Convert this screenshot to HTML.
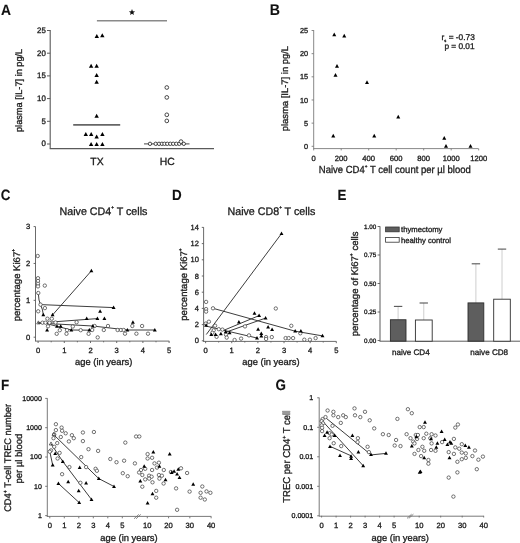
<!DOCTYPE html>
<html><head><meta charset="utf-8"><style>
html,body{margin:0;padding:0;background:#fff;}
svg{display:block;font-family:"Liberation Sans", sans-serif;filter:blur(0.3px);}
text{stroke:#1c1c1c;stroke-width:0.32px;text-rendering:geometricPrecision;}
</style></head><body>
<svg width="520" height="543" viewBox="0 0 520 543">
<rect width="520" height="543" fill="#fff"/>
<text transform="translate(1.00,15.05) scale(0.93,1)" font-size="14.9" font-weight="bold" fill="#111" style="stroke-width:0.1px">A</text>
<line x1="50.20" y1="30.00" x2="50.20" y2="148.60" stroke="#5a5a5a" stroke-width="1.1"/>
<line x1="49.70" y1="148.60" x2="214.00" y2="148.60" stroke="#5a5a5a" stroke-width="1.1"/>
<line x1="47.00" y1="30.50" x2="50.20" y2="30.50" stroke="#5a5a5a" stroke-width="1"/>
<text x="45.80" y="32.80" font-size="7.9" text-anchor="end" font-weight="normal" fill="#1c1c1c" >25</text>
<line x1="47.00" y1="53.20" x2="50.20" y2="53.20" stroke="#5a5a5a" stroke-width="1"/>
<text x="45.80" y="55.50" font-size="7.9" text-anchor="end" font-weight="normal" fill="#1c1c1c" >20</text>
<line x1="47.00" y1="75.90" x2="50.20" y2="75.90" stroke="#5a5a5a" stroke-width="1"/>
<text x="45.80" y="78.20" font-size="7.9" text-anchor="end" font-weight="normal" fill="#1c1c1c" >15</text>
<line x1="47.00" y1="98.60" x2="50.20" y2="98.60" stroke="#5a5a5a" stroke-width="1"/>
<text x="45.80" y="100.90" font-size="7.9" text-anchor="end" font-weight="normal" fill="#1c1c1c" >10</text>
<line x1="47.00" y1="121.30" x2="50.20" y2="121.30" stroke="#5a5a5a" stroke-width="1"/>
<text x="45.80" y="123.60" font-size="7.9" text-anchor="end" font-weight="normal" fill="#1c1c1c" >5</text>
<line x1="47.00" y1="144.00" x2="50.20" y2="144.00" stroke="#5a5a5a" stroke-width="1"/>
<text x="45.80" y="146.30" font-size="7.9" text-anchor="end" font-weight="normal" fill="#1c1c1c" >0</text>
<text transform="translate(21.80,90.40) rotate(-90)" font-size="9.4" text-anchor="middle" fill="#1c1c1c"  textLength="83.2" lengthAdjust="spacingAndGlyphs">plasma [IL-7] in pg/L</text>
<text x="97.00" y="164.70" font-size="10.4" text-anchor="middle" font-weight="normal" fill="#1c1c1c" >TX</text>
<text x="167.30" y="164.70" font-size="10.4" text-anchor="middle" font-weight="normal" fill="#1c1c1c" >HC</text>
<line x1="96.90" y1="20.80" x2="167.00" y2="20.80" stroke="#8a8a8a" stroke-width="1.5"/>
<polygon points="132.00,9.10 132.85,11.23 135.14,11.38 133.38,12.85 133.94,15.07 132.00,13.85 130.06,15.07 130.62,12.85 128.86,11.38 131.15,11.23" fill="#111"/>
<line x1="73.20" y1="124.90" x2="120.20" y2="124.90" stroke="#666" stroke-width="1.7"/>
<line x1="144.00" y1="143.80" x2="189.50" y2="143.80" stroke="#6a6a6a" stroke-width="1.2"/>
<polygon points="96.80,34.12 94.60,38.08 99.00,38.08" fill="#000"/>
<polygon points="102.30,33.22 100.10,37.18 104.50,37.18" fill="#000"/>
<polygon points="91.10,63.82 88.90,67.78 93.30,67.78" fill="#000"/>
<polygon points="96.65,63.82 94.45,67.78 98.85,67.78" fill="#000"/>
<polygon points="96.65,73.02 94.45,76.98 98.85,76.98" fill="#000"/>
<polygon points="96.65,79.72 94.45,83.68 98.85,83.68" fill="#000"/>
<polygon points="96.65,113.82 94.45,117.78 98.85,117.78" fill="#000"/>
<polygon points="85.80,132.02 83.60,135.98 88.00,135.98" fill="#000"/>
<polygon points="91.20,132.02 89.00,135.98 93.40,135.98" fill="#000"/>
<polygon points="96.65,134.52 94.45,138.48 98.85,138.48" fill="#000"/>
<polygon points="102.40,132.02 100.20,135.98 104.60,135.98" fill="#000"/>
<polygon points="91.10,142.02 88.90,145.98 93.30,145.98" fill="#000"/>
<polygon points="96.65,142.02 94.45,145.98 98.85,145.98" fill="#000"/>
<polygon points="102.40,142.02 100.20,145.98 104.60,145.98" fill="#000"/>
<circle cx="166.80" cy="87.50" r="1.85" fill="#fff" stroke="#333" stroke-width="0.9"/>
<circle cx="166.80" cy="97.40" r="1.85" fill="#fff" stroke="#333" stroke-width="0.9"/>
<circle cx="166.80" cy="114.80" r="1.85" fill="#fff" stroke="#333" stroke-width="0.9"/>
<circle cx="166.80" cy="120.90" r="1.85" fill="#fff" stroke="#333" stroke-width="0.9"/>
<circle cx="150.00" cy="143.80" r="1.7" fill="#fff" stroke="#333" stroke-width="0.9"/>
<circle cx="155.70" cy="143.80" r="1.7" fill="#fff" stroke="#333" stroke-width="0.9"/>
<circle cx="159.00" cy="143.80" r="1.7" fill="#fff" stroke="#333" stroke-width="0.9"/>
<circle cx="161.90" cy="143.80" r="1.7" fill="#fff" stroke="#333" stroke-width="0.9"/>
<circle cx="164.50" cy="143.80" r="1.7" fill="#fff" stroke="#333" stroke-width="0.9"/>
<circle cx="167.30" cy="143.80" r="1.7" fill="#fff" stroke="#333" stroke-width="0.9"/>
<circle cx="170.30" cy="143.80" r="1.7" fill="#fff" stroke="#333" stroke-width="0.9"/>
<circle cx="173.20" cy="143.80" r="1.7" fill="#fff" stroke="#333" stroke-width="0.9"/>
<circle cx="176.30" cy="143.80" r="1.7" fill="#fff" stroke="#333" stroke-width="0.9"/>
<circle cx="179.30" cy="143.80" r="1.7" fill="#fff" stroke="#333" stroke-width="0.9"/>
<circle cx="183.80" cy="143.80" r="1.7" fill="#fff" stroke="#333" stroke-width="0.9"/>
<circle cx="181.00" cy="141.60" r="1.85" fill="#fff" stroke="#333" stroke-width="0.9"/>
<text transform="translate(269.70,14.65) scale(0.92,1)" font-size="15.4" font-weight="bold" fill="#111" style="stroke-width:0.1px">B</text>
<line x1="313.70" y1="30.00" x2="313.70" y2="148.60" stroke="#7a7a7a" stroke-width="0.9"/>
<line x1="313.20" y1="148.60" x2="478.50" y2="148.60" stroke="#7a7a7a" stroke-width="0.9"/>
<line x1="311.60" y1="30.50" x2="313.70" y2="30.50" stroke="#7a7a7a" stroke-width="0.9"/>
<text x="308.00" y="33.10" font-size="7.3" text-anchor="end" font-weight="normal" fill="#1c1c1c" >25</text>
<line x1="311.60" y1="53.66" x2="313.70" y2="53.66" stroke="#7a7a7a" stroke-width="0.9"/>
<text x="308.00" y="56.26" font-size="7.3" text-anchor="end" font-weight="normal" fill="#1c1c1c" >20</text>
<line x1="311.60" y1="76.82" x2="313.70" y2="76.82" stroke="#7a7a7a" stroke-width="0.9"/>
<text x="308.00" y="79.42" font-size="7.3" text-anchor="end" font-weight="normal" fill="#1c1c1c" >15</text>
<line x1="311.60" y1="99.98" x2="313.70" y2="99.98" stroke="#7a7a7a" stroke-width="0.9"/>
<text x="308.00" y="102.58" font-size="7.3" text-anchor="end" font-weight="normal" fill="#1c1c1c" >10</text>
<line x1="311.60" y1="123.14" x2="313.70" y2="123.14" stroke="#7a7a7a" stroke-width="0.9"/>
<text x="308.00" y="125.74" font-size="7.3" text-anchor="end" font-weight="normal" fill="#1c1c1c" >5</text>
<line x1="311.60" y1="146.30" x2="313.70" y2="146.30" stroke="#7a7a7a" stroke-width="0.9"/>
<text x="308.00" y="148.90" font-size="7.3" text-anchor="end" font-weight="normal" fill="#1c1c1c" >0</text>
<line x1="313.70" y1="148.60" x2="313.70" y2="150.40" stroke="#7a7a7a" stroke-width="0.9"/>
<text x="313.70" y="160.50" font-size="7.6" text-anchor="middle" font-weight="normal" fill="#1c1c1c" >0</text>
<line x1="341.20" y1="148.60" x2="341.20" y2="150.40" stroke="#7a7a7a" stroke-width="0.9"/>
<text x="341.20" y="160.50" font-size="7.6" text-anchor="middle" font-weight="normal" fill="#1c1c1c" >200</text>
<line x1="368.70" y1="148.60" x2="368.70" y2="150.40" stroke="#7a7a7a" stroke-width="0.9"/>
<text x="368.70" y="160.50" font-size="7.6" text-anchor="middle" font-weight="normal" fill="#1c1c1c" >400</text>
<line x1="396.20" y1="148.60" x2="396.20" y2="150.40" stroke="#7a7a7a" stroke-width="0.9"/>
<text x="396.20" y="160.50" font-size="7.6" text-anchor="middle" font-weight="normal" fill="#1c1c1c" >600</text>
<line x1="423.70" y1="148.60" x2="423.70" y2="150.40" stroke="#7a7a7a" stroke-width="0.9"/>
<text x="423.70" y="160.50" font-size="7.6" text-anchor="middle" font-weight="normal" fill="#1c1c1c" >800</text>
<line x1="451.20" y1="148.60" x2="451.20" y2="150.40" stroke="#7a7a7a" stroke-width="0.9"/>
<text x="451.20" y="160.50" font-size="7.6" text-anchor="middle" font-weight="normal" fill="#1c1c1c" >1000</text>
<line x1="478.70" y1="148.60" x2="478.70" y2="150.40" stroke="#7a7a7a" stroke-width="0.9"/>
<text x="478.70" y="160.50" font-size="7.6" text-anchor="middle" font-weight="normal" fill="#1c1c1c" >1200</text>
<text transform="translate(287.80,88.60) rotate(-90)" font-size="9.4" text-anchor="middle" fill="#1c1c1c"  textLength="85.3" lengthAdjust="spacingAndGlyphs">plasma [IL-7] in pg/L</text>
<text x="318.80" y="173.10" font-size="10.3" text-anchor="start" font-weight="normal" fill="#1c1c1c"  textLength="152" lengthAdjust="spacingAndGlyphs">Naive CD4<tspan font-size="5" dy="-4.8">+</tspan><tspan dy="4.8"> T cell count per µl blood</tspan></text>
<text x="441.60" y="40.30" font-size="8.3" text-anchor="start" font-weight="normal" fill="#1c1c1c"  textLength="33.2" lengthAdjust="spacingAndGlyphs">r<tspan font-size="4" dy="1.6">s</tspan><tspan dy="-1.6"> = -0.73</tspan></text>
<text x="474.60" y="48.80" font-size="8.3" text-anchor="end" font-weight="normal" fill="#1c1c1c" >p = 0.01</text>
<polygon points="334.25,32.59 332.25,36.19 336.25,36.19" fill="#000"/>
<polygon points="344.25,33.84 342.25,37.44 346.25,37.44" fill="#000"/>
<polygon points="337.00,64.09 335.00,67.69 339.00,67.69" fill="#000"/>
<polygon points="335.50,73.09 333.50,76.69 337.50,76.69" fill="#000"/>
<polygon points="367.00,80.34 365.00,83.94 369.00,83.94" fill="#000"/>
<polygon points="333.25,133.84 331.25,137.44 335.25,137.44" fill="#000"/>
<polygon points="374.25,133.84 372.25,137.44 376.25,137.44" fill="#000"/>
<polygon points="398.25,114.84 396.25,118.44 400.25,118.44" fill="#000"/>
<polygon points="444.25,136.09 442.25,139.69 446.25,139.69" fill="#000"/>
<polygon points="446.00,144.09 444.00,147.69 448.00,147.69" fill="#000"/>
<polygon points="470.50,144.09 468.50,147.69 472.50,147.69" fill="#000"/>
<text transform="translate(0.85,199.55) scale(0.9,1)" font-size="14.9" font-weight="bold" fill="#111" style="stroke-width:0.1px">C</text>
<line x1="35.50" y1="226.60" x2="35.50" y2="341.10" stroke="#5a5a5a" stroke-width="0.9"/>
<line x1="35.00" y1="341.10" x2="169.30" y2="341.10" stroke="#5a5a5a" stroke-width="0.9"/>
<line x1="33.60" y1="337.20" x2="35.50" y2="337.20" stroke="#5a5a5a" stroke-width="0.9"/>
<text x="30.30" y="339.80" font-size="7.6" text-anchor="end" font-weight="normal" fill="#1c1c1c" >0</text>
<line x1="33.60" y1="300.33" x2="35.50" y2="300.33" stroke="#5a5a5a" stroke-width="0.9"/>
<text x="30.30" y="302.93" font-size="7.6" text-anchor="end" font-weight="normal" fill="#1c1c1c" >1</text>
<line x1="33.60" y1="263.46" x2="35.50" y2="263.46" stroke="#5a5a5a" stroke-width="0.9"/>
<text x="30.30" y="266.06" font-size="7.6" text-anchor="end" font-weight="normal" fill="#1c1c1c" >2</text>
<line x1="33.60" y1="226.59" x2="35.50" y2="226.59" stroke="#5a5a5a" stroke-width="0.9"/>
<text x="30.30" y="229.19" font-size="7.6" text-anchor="end" font-weight="normal" fill="#1c1c1c" >3</text>
<line x1="38.10" y1="341.10" x2="38.10" y2="343.00" stroke="#5a5a5a" stroke-width="0.9"/>
<text x="38.10" y="353.40" font-size="7.6" text-anchor="middle" font-weight="normal" fill="#1c1c1c" >0</text>
<line x1="51.20" y1="341.10" x2="51.20" y2="342.30" stroke="#5a5a5a" stroke-width="0.9"/>
<line x1="64.30" y1="341.10" x2="64.30" y2="343.00" stroke="#5a5a5a" stroke-width="0.9"/>
<text x="64.30" y="353.40" font-size="7.6" text-anchor="middle" font-weight="normal" fill="#1c1c1c" >1</text>
<line x1="77.40" y1="341.10" x2="77.40" y2="342.30" stroke="#5a5a5a" stroke-width="0.9"/>
<line x1="90.50" y1="341.10" x2="90.50" y2="343.00" stroke="#5a5a5a" stroke-width="0.9"/>
<text x="90.50" y="353.40" font-size="7.6" text-anchor="middle" font-weight="normal" fill="#1c1c1c" >2</text>
<line x1="103.60" y1="341.10" x2="103.60" y2="342.30" stroke="#5a5a5a" stroke-width="0.9"/>
<line x1="116.70" y1="341.10" x2="116.70" y2="343.00" stroke="#5a5a5a" stroke-width="0.9"/>
<text x="116.70" y="353.40" font-size="7.6" text-anchor="middle" font-weight="normal" fill="#1c1c1c" >3</text>
<line x1="129.80" y1="341.10" x2="129.80" y2="342.30" stroke="#5a5a5a" stroke-width="0.9"/>
<line x1="142.90" y1="341.10" x2="142.90" y2="343.00" stroke="#5a5a5a" stroke-width="0.9"/>
<text x="142.90" y="353.40" font-size="7.6" text-anchor="middle" font-weight="normal" fill="#1c1c1c" >4</text>
<line x1="156.00" y1="341.10" x2="156.00" y2="342.30" stroke="#5a5a5a" stroke-width="0.9"/>
<line x1="169.10" y1="341.10" x2="169.10" y2="343.00" stroke="#5a5a5a" stroke-width="0.9"/>
<text x="169.10" y="353.40" font-size="7.6" text-anchor="middle" font-weight="normal" fill="#1c1c1c" >5</text>
<text x="59.60" y="214.50" font-size="11.0" text-anchor="start" font-weight="normal" fill="#1c1c1c"  textLength="87.8" lengthAdjust="spacingAndGlyphs">Naive CD4<tspan font-size="4.8" dy="-5.4">+</tspan><tspan dy="5.4"> T cells</tspan></text>
<text transform="translate(20.40,285.10) rotate(-90)" font-size="9.6" text-anchor="middle" fill="#1c1c1c"  textLength="72.5" lengthAdjust="spacingAndGlyphs">percentage Ki67<tspan font-size="5" dy="-5.6">+</tspan></text>
<text x="103.70" y="365.10" font-size="9.4" text-anchor="middle" font-weight="normal" fill="#1c1c1c" >age (in years)</text>
<polyline points="52.60,314.90 91.40,270.80" fill="none" stroke="#333" stroke-width="0.95"/>
<polyline points="40.50,304.60 113.60,307.60" fill="none" stroke="#333" stroke-width="0.95"/>
<polyline points="38.30,293.00 39.00,300.00 40.50,304.60 42.50,310.00 43.30,314.90" fill="none" stroke="#333" stroke-width="0.95"/>
<polyline points="38.00,323.00 97.40,318.60" fill="none" stroke="#333" stroke-width="0.95"/>
<polyline points="38.00,323.00 92.80,326.00 127.40,330.00 154.80,330.00" fill="none" stroke="#333" stroke-width="0.95"/>
<polyline points="44.00,323.00 57.00,326.30 71.30,330.00 89.30,330.20" fill="none" stroke="#333" stroke-width="0.95"/>
<circle cx="37.70" cy="256.00" r="1.7" fill="#fff" stroke="#383838" stroke-width="0.7"/>
<circle cx="38.00" cy="278.20" r="1.7" fill="#fff" stroke="#383838" stroke-width="0.7"/>
<circle cx="38.00" cy="281.00" r="1.7" fill="#fff" stroke="#383838" stroke-width="0.7"/>
<circle cx="38.00" cy="283.80" r="1.7" fill="#fff" stroke="#383838" stroke-width="0.7"/>
<circle cx="38.00" cy="286.40" r="1.7" fill="#fff" stroke="#383838" stroke-width="0.7"/>
<circle cx="44.80" cy="285.60" r="1.7" fill="#fff" stroke="#383838" stroke-width="0.7"/>
<circle cx="38.30" cy="293.00" r="1.7" fill="#fff" stroke="#383838" stroke-width="0.7"/>
<circle cx="40.50" cy="304.60" r="1.7" fill="#fff" stroke="#383838" stroke-width="0.7"/>
<circle cx="44.90" cy="308.10" r="1.7" fill="#fff" stroke="#383838" stroke-width="0.7"/>
<circle cx="38.20" cy="311.30" r="1.7" fill="#fff" stroke="#383838" stroke-width="0.7"/>
<circle cx="47.40" cy="318.70" r="1.7" fill="#fff" stroke="#383838" stroke-width="0.7"/>
<circle cx="51.80" cy="318.70" r="1.7" fill="#fff" stroke="#383838" stroke-width="0.7"/>
<circle cx="55.50" cy="322.50" r="1.7" fill="#fff" stroke="#383838" stroke-width="0.7"/>
<circle cx="76.60" cy="322.20" r="1.7" fill="#fff" stroke="#383838" stroke-width="0.7"/>
<circle cx="48.00" cy="326.30" r="1.7" fill="#fff" stroke="#383838" stroke-width="0.7"/>
<circle cx="72.80" cy="326.50" r="1.7" fill="#fff" stroke="#383838" stroke-width="0.7"/>
<circle cx="59.80" cy="330.20" r="1.7" fill="#fff" stroke="#383838" stroke-width="0.7"/>
<circle cx="67.00" cy="330.20" r="1.7" fill="#fff" stroke="#383838" stroke-width="0.7"/>
<circle cx="80.70" cy="330.20" r="1.7" fill="#fff" stroke="#383838" stroke-width="0.7"/>
<circle cx="56.70" cy="333.80" r="1.7" fill="#fff" stroke="#383838" stroke-width="0.7"/>
<circle cx="66.50" cy="333.80" r="1.7" fill="#fff" stroke="#383838" stroke-width="0.7"/>
<circle cx="88.60" cy="333.80" r="1.7" fill="#fff" stroke="#383838" stroke-width="0.7"/>
<circle cx="94.60" cy="326.00" r="1.7" fill="#fff" stroke="#383838" stroke-width="0.7"/>
<circle cx="108.00" cy="326.00" r="1.7" fill="#fff" stroke="#383838" stroke-width="0.7"/>
<circle cx="132.30" cy="326.00" r="1.7" fill="#fff" stroke="#383838" stroke-width="0.7"/>
<circle cx="142.10" cy="326.00" r="1.7" fill="#fff" stroke="#383838" stroke-width="0.7"/>
<circle cx="92.20" cy="330.00" r="1.7" fill="#fff" stroke="#383838" stroke-width="0.7"/>
<circle cx="103.80" cy="330.00" r="1.7" fill="#fff" stroke="#383838" stroke-width="0.7"/>
<circle cx="117.60" cy="330.00" r="1.7" fill="#fff" stroke="#383838" stroke-width="0.7"/>
<circle cx="120.90" cy="330.00" r="1.7" fill="#fff" stroke="#383838" stroke-width="0.7"/>
<circle cx="123.70" cy="330.00" r="1.7" fill="#fff" stroke="#383838" stroke-width="0.7"/>
<circle cx="125.00" cy="333.70" r="1.7" fill="#fff" stroke="#383838" stroke-width="0.7"/>
<circle cx="136.40" cy="333.70" r="1.7" fill="#fff" stroke="#383838" stroke-width="0.7"/>
<circle cx="148.00" cy="333.70" r="1.7" fill="#fff" stroke="#383838" stroke-width="0.7"/>
<circle cx="97.70" cy="337.40" r="1.7" fill="#fff" stroke="#383838" stroke-width="0.7"/>
<circle cx="42.50" cy="322.70" r="1.7" fill="#fff" stroke="#383838" stroke-width="0.7"/>
<circle cx="45.50" cy="322.70" r="1.7" fill="#fff" stroke="#383838" stroke-width="0.7"/>
<circle cx="49.50" cy="322.70" r="1.7" fill="#fff" stroke="#383838" stroke-width="0.7"/>
<polygon points="91.40,268.69 89.45,272.20 93.35,272.20" fill="#000"/>
<polygon points="52.60,312.79 50.65,316.30 54.55,316.30" fill="#000"/>
<polygon points="43.30,312.79 41.35,316.30 45.25,316.30" fill="#000"/>
<polygon points="113.60,305.49 111.65,309.00 115.55,309.00" fill="#000"/>
<polygon points="100.10,309.19 98.15,312.70 102.05,312.70" fill="#000"/>
<polygon points="97.40,316.49 95.45,320.00 99.35,320.00" fill="#000"/>
<polygon points="86.70,316.39 84.75,319.90 88.65,319.90" fill="#000"/>
<polygon points="104.40,316.49 102.45,320.00 106.35,320.00" fill="#000"/>
<polygon points="132.90,320.19 130.95,323.70 134.85,323.70" fill="#000"/>
<polygon points="92.80,323.89 90.85,327.40 94.75,327.40" fill="#000"/>
<polygon points="127.40,327.89 125.45,331.40 129.35,331.40" fill="#000"/>
<polygon points="154.80,327.89 152.85,331.40 156.75,331.40" fill="#000"/>
<polygon points="57.00,324.19 55.05,327.70 58.95,327.70" fill="#000"/>
<polygon points="60.70,324.19 58.75,327.70 62.65,327.70" fill="#000"/>
<polygon points="47.10,328.09 45.15,331.60 49.05,331.60" fill="#000"/>
<polygon points="71.30,328.09 69.35,331.60 73.25,331.60" fill="#000"/>
<polygon points="89.30,328.09 87.35,331.60 91.25,331.60" fill="#000"/>
<polygon points="38.40,320.86 36.70,323.92 40.10,323.92" fill="none" stroke="#333" stroke-width="0.7"/>
<text transform="translate(172.00,199.75) scale(0.9,1)" font-size="14.9" font-weight="bold" fill="#111" style="stroke-width:0.1px">D</text>
<line x1="203.60" y1="227.20" x2="203.60" y2="341.40" stroke="#5a5a5a" stroke-width="0.9"/>
<line x1="203.10" y1="341.40" x2="336.40" y2="341.40" stroke="#5a5a5a" stroke-width="0.9"/>
<line x1="201.80" y1="340.80" x2="203.60" y2="340.80" stroke="#5a5a5a" stroke-width="0.9"/>
<text x="198.90" y="343.40" font-size="7.5" text-anchor="end" font-weight="normal" fill="#1c1c1c" >0</text>
<line x1="201.80" y1="324.60" x2="203.60" y2="324.60" stroke="#5a5a5a" stroke-width="0.9"/>
<text x="198.90" y="327.20" font-size="7.5" text-anchor="end" font-weight="normal" fill="#1c1c1c" >2</text>
<line x1="201.80" y1="308.40" x2="203.60" y2="308.40" stroke="#5a5a5a" stroke-width="0.9"/>
<text x="198.90" y="311.00" font-size="7.5" text-anchor="end" font-weight="normal" fill="#1c1c1c" >4</text>
<line x1="201.80" y1="292.20" x2="203.60" y2="292.20" stroke="#5a5a5a" stroke-width="0.9"/>
<text x="198.90" y="294.80" font-size="7.5" text-anchor="end" font-weight="normal" fill="#1c1c1c" >6</text>
<line x1="201.80" y1="276.00" x2="203.60" y2="276.00" stroke="#5a5a5a" stroke-width="0.9"/>
<text x="198.90" y="278.60" font-size="7.5" text-anchor="end" font-weight="normal" fill="#1c1c1c" >8</text>
<line x1="201.80" y1="259.80" x2="203.60" y2="259.80" stroke="#5a5a5a" stroke-width="0.9"/>
<text x="198.90" y="262.40" font-size="7.5" text-anchor="end" font-weight="normal" fill="#1c1c1c" >10</text>
<line x1="201.80" y1="243.60" x2="203.60" y2="243.60" stroke="#5a5a5a" stroke-width="0.9"/>
<text x="198.90" y="246.20" font-size="7.5" text-anchor="end" font-weight="normal" fill="#1c1c1c" >12</text>
<line x1="201.80" y1="227.40" x2="203.60" y2="227.40" stroke="#5a5a5a" stroke-width="0.9"/>
<text x="198.90" y="230.00" font-size="7.5" text-anchor="end" font-weight="normal" fill="#1c1c1c" >14</text>
<line x1="205.60" y1="341.40" x2="205.60" y2="343.20" stroke="#5a5a5a" stroke-width="0.9"/>
<text x="205.60" y="353.40" font-size="7.6" text-anchor="middle" font-weight="normal" fill="#1c1c1c" >0</text>
<line x1="218.67" y1="341.40" x2="218.67" y2="342.50" stroke="#5a5a5a" stroke-width="0.9"/>
<line x1="231.74" y1="341.40" x2="231.74" y2="343.20" stroke="#5a5a5a" stroke-width="0.9"/>
<text x="231.74" y="353.40" font-size="7.6" text-anchor="middle" font-weight="normal" fill="#1c1c1c" >1</text>
<line x1="244.81" y1="341.40" x2="244.81" y2="342.50" stroke="#5a5a5a" stroke-width="0.9"/>
<line x1="257.88" y1="341.40" x2="257.88" y2="343.20" stroke="#5a5a5a" stroke-width="0.9"/>
<text x="257.88" y="353.40" font-size="7.6" text-anchor="middle" font-weight="normal" fill="#1c1c1c" >2</text>
<line x1="270.95" y1="341.40" x2="270.95" y2="342.50" stroke="#5a5a5a" stroke-width="0.9"/>
<line x1="284.02" y1="341.40" x2="284.02" y2="343.20" stroke="#5a5a5a" stroke-width="0.9"/>
<text x="284.02" y="353.40" font-size="7.6" text-anchor="middle" font-weight="normal" fill="#1c1c1c" >3</text>
<line x1="297.09" y1="341.40" x2="297.09" y2="342.50" stroke="#5a5a5a" stroke-width="0.9"/>
<line x1="310.16" y1="341.40" x2="310.16" y2="343.20" stroke="#5a5a5a" stroke-width="0.9"/>
<text x="310.16" y="353.40" font-size="7.6" text-anchor="middle" font-weight="normal" fill="#1c1c1c" >4</text>
<line x1="323.23" y1="341.40" x2="323.23" y2="342.50" stroke="#5a5a5a" stroke-width="0.9"/>
<line x1="336.30" y1="341.40" x2="336.30" y2="343.20" stroke="#5a5a5a" stroke-width="0.9"/>
<text x="336.30" y="353.40" font-size="7.6" text-anchor="middle" font-weight="normal" fill="#1c1c1c" >5</text>
<text x="227.50" y="214.50" font-size="11.0" text-anchor="start" font-weight="normal" fill="#1c1c1c"  textLength="87.8" lengthAdjust="spacingAndGlyphs">Naive CD8<tspan font-size="4.8" dy="-5.4">+</tspan><tspan dy="5.4"> T cells</tspan></text>
<text transform="translate(187.30,284.50) rotate(-90)" font-size="9.6" text-anchor="middle" fill="#1c1c1c"  textLength="72.5" lengthAdjust="spacingAndGlyphs">percentage Ki67<tspan font-size="5" dy="-5.6">+</tspan></text>
<text x="271.00" y="365.10" font-size="9.4" text-anchor="middle" font-weight="normal" fill="#1c1c1c" >age (in years)</text>
<polyline points="206.30,334.50 281.50,233.60" fill="none" stroke="#333" stroke-width="0.95"/>
<polyline points="213.00,308.30 295.20,331.20 322.50,335.90" fill="none" stroke="#333" stroke-width="0.95"/>
<polyline points="205.80,326.00 223.80,330.30 257.00,338.00" fill="none" stroke="#333" stroke-width="0.95"/>
<polyline points="223.80,330.30 259.10,315.60" fill="none" stroke="#333" stroke-width="0.95"/>
<polyline points="225.00,332.50 265.60,318.10" fill="none" stroke="#333" stroke-width="0.95"/>
<circle cx="206.10" cy="301.90" r="1.7" fill="#fff" stroke="#383838" stroke-width="0.7"/>
<circle cx="206.10" cy="309.10" r="1.7" fill="#fff" stroke="#383838" stroke-width="0.7"/>
<circle cx="206.10" cy="311.60" r="1.7" fill="#fff" stroke="#383838" stroke-width="0.7"/>
<circle cx="213.00" cy="308.30" r="1.7" fill="#fff" stroke="#383838" stroke-width="0.7"/>
<circle cx="208.90" cy="321.70" r="1.7" fill="#fff" stroke="#383838" stroke-width="0.7"/>
<circle cx="205.80" cy="323.60" r="1.7" fill="#fff" stroke="#383838" stroke-width="0.7"/>
<circle cx="215.10" cy="325.70" r="1.7" fill="#fff" stroke="#383838" stroke-width="0.7"/>
<circle cx="218.80" cy="329.20" r="1.7" fill="#fff" stroke="#383838" stroke-width="0.7"/>
<circle cx="213.70" cy="330.30" r="1.7" fill="#fff" stroke="#383838" stroke-width="0.7"/>
<circle cx="222.40" cy="329.60" r="1.7" fill="#fff" stroke="#383838" stroke-width="0.7"/>
<circle cx="216.60" cy="336.80" r="1.7" fill="#fff" stroke="#383838" stroke-width="0.7"/>
<circle cx="226.00" cy="334.70" r="1.7" fill="#fff" stroke="#383838" stroke-width="0.7"/>
<circle cx="226.70" cy="337.60" r="1.7" fill="#fff" stroke="#383838" stroke-width="0.7"/>
<circle cx="234.60" cy="340.00" r="1.7" fill="#fff" stroke="#383838" stroke-width="0.7"/>
<circle cx="241.10" cy="338.60" r="1.7" fill="#fff" stroke="#383838" stroke-width="0.7"/>
<circle cx="245.00" cy="326.40" r="1.7" fill="#fff" stroke="#383838" stroke-width="0.7"/>
<circle cx="249.00" cy="335.40" r="1.7" fill="#fff" stroke="#383838" stroke-width="0.7"/>
<circle cx="266.10" cy="337.10" r="1.7" fill="#fff" stroke="#383838" stroke-width="0.7"/>
<circle cx="266.10" cy="339.00" r="1.7" fill="#fff" stroke="#383838" stroke-width="0.7"/>
<circle cx="271.80" cy="337.10" r="1.7" fill="#fff" stroke="#383838" stroke-width="0.7"/>
<circle cx="212.30" cy="332.80" r="1.7" fill="#fff" stroke="#383838" stroke-width="0.7"/>
<circle cx="275.80" cy="308.50" r="1.7" fill="#fff" stroke="#383838" stroke-width="0.7"/>
<circle cx="291.30" cy="325.80" r="1.7" fill="#fff" stroke="#383838" stroke-width="0.7"/>
<circle cx="300.30" cy="333.30" r="1.7" fill="#fff" stroke="#383838" stroke-width="0.7"/>
<circle cx="285.60" cy="338.10" r="1.7" fill="#fff" stroke="#383838" stroke-width="0.7"/>
<circle cx="288.70" cy="338.10" r="1.7" fill="#fff" stroke="#383838" stroke-width="0.7"/>
<circle cx="293.10" cy="338.10" r="1.7" fill="#fff" stroke="#383838" stroke-width="0.7"/>
<circle cx="315.60" cy="338.10" r="1.7" fill="#fff" stroke="#383838" stroke-width="0.7"/>
<circle cx="304.30" cy="339.70" r="1.7" fill="#fff" stroke="#383838" stroke-width="0.7"/>
<circle cx="309.90" cy="339.70" r="1.7" fill="#fff" stroke="#383838" stroke-width="0.7"/>
<polygon points="281.50,231.49 279.55,235.00 283.45,235.00" fill="#000"/>
<polygon points="254.50,311.19 252.55,314.70 256.45,314.70" fill="#000"/>
<polygon points="259.10,313.49 257.15,317.00 261.05,317.00" fill="#000"/>
<polygon points="265.60,315.99 263.65,319.50 267.55,319.50" fill="#000"/>
<polygon points="238.90,319.99 236.95,323.50 240.85,323.50" fill="#000"/>
<polygon points="258.10,327.19 256.15,330.70 260.05,330.70" fill="#000"/>
<polygon points="268.10,324.89 266.15,328.40 270.05,328.40" fill="#000"/>
<polygon points="272.10,327.49 270.15,331.00 274.05,331.00" fill="#000"/>
<polygon points="211.30,332.59 209.35,336.10 213.25,336.10" fill="#000"/>
<polygon points="215.60,332.59 213.65,336.10 217.55,336.10" fill="#000"/>
<polygon points="220.90,331.79 218.95,335.30 222.85,335.30" fill="#000"/>
<polygon points="225.70,329.69 223.75,333.20 227.65,333.20" fill="#000"/>
<polygon points="229.60,330.69 227.65,334.20 231.55,334.20" fill="#000"/>
<polygon points="257.00,335.89 255.05,339.40 258.95,339.40" fill="#000"/>
<polygon points="261.30,331.59 259.35,335.10 263.25,335.10" fill="#000"/>
<polygon points="261.30,333.99 259.35,337.50 263.25,337.50" fill="#000"/>
<polygon points="206.10,323.19 204.15,326.70 208.05,326.70" fill="#000"/>
<polygon points="295.20,329.09 293.25,332.60 297.15,332.60" fill="#000"/>
<polygon points="300.90,329.09 298.95,332.60 302.85,332.60" fill="#000"/>
<polygon points="322.50,333.79 320.55,337.30 324.45,337.30" fill="#000"/>
<text transform="translate(337.60,199.75) scale(0.9,1)" font-size="14.9" font-weight="bold" fill="#111" style="stroke-width:0.1px">E</text>
<line x1="380.00" y1="226.30" x2="380.00" y2="341.20" stroke="#5a5a5a" stroke-width="1.0"/>
<line x1="379.50" y1="341.20" x2="520.00" y2="341.20" stroke="#5a5a5a" stroke-width="1.0"/>
<line x1="377.60" y1="340.50" x2="380.00" y2="340.50" stroke="#5a5a5a" stroke-width="0.9"/>
<text x="376.30" y="342.70" font-size="6.3" text-anchor="end" font-weight="normal" fill="#1c1c1c" >0.00</text>
<line x1="377.60" y1="312.00" x2="380.00" y2="312.00" stroke="#5a5a5a" stroke-width="0.9"/>
<text x="376.30" y="314.20" font-size="6.3" text-anchor="end" font-weight="normal" fill="#1c1c1c" >0.25</text>
<line x1="377.60" y1="283.50" x2="380.00" y2="283.50" stroke="#5a5a5a" stroke-width="0.9"/>
<text x="376.30" y="285.70" font-size="6.3" text-anchor="end" font-weight="normal" fill="#1c1c1c" >0.50</text>
<line x1="377.60" y1="255.00" x2="380.00" y2="255.00" stroke="#5a5a5a" stroke-width="0.9"/>
<text x="376.30" y="257.20" font-size="6.3" text-anchor="end" font-weight="normal" fill="#1c1c1c" >0.75</text>
<line x1="377.60" y1="226.50" x2="380.00" y2="226.50" stroke="#5a5a5a" stroke-width="0.9"/>
<text x="376.30" y="228.70" font-size="6.3" text-anchor="end" font-weight="normal" fill="#1c1c1c" >1.00</text>
<text transform="translate(358.40,283.90) rotate(-90)" font-size="9.6" text-anchor="middle" fill="#1c1c1c"  textLength="104.8" lengthAdjust="spacingAndGlyphs">percentage of Ki67<tspan font-size="5" dy="-5.6">+</tspan><tspan dy="5.6"> cells</tspan></text>
<rect x="385.60" y="227.00" width="13.60" height="4.80" fill="#5e5e5e" stroke="#333" stroke-width="0.8"/>
<text x="401.00" y="232.30" font-size="7.7" text-anchor="start" font-weight="normal" fill="#1c1c1c" >thymectomy</text>
<rect x="385.60" y="237.40" width="13.60" height="4.80" fill="#fff" stroke="#333" stroke-width="0.8"/>
<text x="401.00" y="242.70" font-size="7.7" text-anchor="start" font-weight="normal" fill="#1c1c1c" >healthy control</text>
<line x1="398.10" y1="319.75" x2="398.10" y2="306.40" stroke="#c8c8c8" stroke-width="0.9"/>
<line x1="393.90" y1="306.40" x2="402.30" y2="306.40" stroke="#555" stroke-width="1.1"/>
<line x1="423.75" y1="320.00" x2="423.75" y2="303.00" stroke="#c8c8c8" stroke-width="0.9"/>
<line x1="419.55" y1="303.00" x2="427.95" y2="303.00" stroke="#555" stroke-width="1.1"/>
<line x1="475.90" y1="302.90" x2="475.90" y2="263.80" stroke="#c8c8c8" stroke-width="0.9"/>
<line x1="471.70" y1="263.80" x2="480.10" y2="263.80" stroke="#555" stroke-width="1.1"/>
<line x1="502.00" y1="299.20" x2="502.00" y2="249.10" stroke="#c8c8c8" stroke-width="0.9"/>
<line x1="497.80" y1="249.10" x2="506.20" y2="249.10" stroke="#555" stroke-width="1.1"/>
<rect x="390.40" y="319.75" width="15.60" height="21.40" fill="#5e5e5e" stroke="#2e2e2e" stroke-width="0.9"/>
<rect x="415.40" y="320.00" width="16.80" height="21.20" fill="#fff" stroke="#2e2e2e" stroke-width="0.9"/>
<rect x="468.00" y="302.90" width="15.80" height="38.30" fill="#5e5e5e" stroke="#2e2e2e" stroke-width="0.9"/>
<rect x="493.70" y="299.20" width="16.60" height="42.00" fill="#fff" stroke="#2e2e2e" stroke-width="0.9"/>
<text x="410.80" y="354.70" font-size="8.1" text-anchor="middle" font-weight="normal" fill="#1c1c1c" >naive CD4</text>
<text x="489.20" y="354.70" font-size="8.1" text-anchor="middle" font-weight="normal" fill="#1c1c1c" >naive CD8</text>
<text transform="translate(1.00,389.65) scale(0.9,1)" font-size="14.9" font-weight="bold" fill="#111" style="stroke-width:0.1px">F</text>
<line x1="47.30" y1="398.20" x2="47.30" y2="516.60" stroke="#6a6a6a" stroke-width="0.9"/>
<line x1="46.80" y1="516.40" x2="211.40" y2="516.40" stroke="#6a6a6a" stroke-width="0.9"/>
<line x1="134.00" y1="518.80" x2="138.80" y2="514.40" stroke="#6a6a6a" stroke-width="0.8"/>
<line x1="136.00" y1="518.80" x2="140.80" y2="514.40" stroke="#6a6a6a" stroke-width="0.8"/>
<line x1="45.20" y1="398.40" x2="47.30" y2="398.40" stroke="#6a6a6a" stroke-width="0.9"/>
<text x="41.80" y="400.80" font-size="7.0" text-anchor="end" font-weight="normal" fill="#1c1c1c" >10000</text>
<line x1="45.20" y1="427.70" x2="47.30" y2="427.70" stroke="#6a6a6a" stroke-width="0.9"/>
<text x="41.80" y="430.10" font-size="7.0" text-anchor="end" font-weight="normal" fill="#1c1c1c" >1000</text>
<line x1="45.20" y1="457.00" x2="47.30" y2="457.00" stroke="#6a6a6a" stroke-width="0.9"/>
<text x="41.80" y="459.40" font-size="7.0" text-anchor="end" font-weight="normal" fill="#1c1c1c" >100</text>
<line x1="45.20" y1="486.30" x2="47.30" y2="486.30" stroke="#6a6a6a" stroke-width="0.9"/>
<text x="41.80" y="488.70" font-size="7.0" text-anchor="end" font-weight="normal" fill="#1c1c1c" >10</text>
<line x1="45.20" y1="515.60" x2="47.30" y2="515.60" stroke="#6a6a6a" stroke-width="0.9"/>
<text x="41.80" y="518.00" font-size="7.0" text-anchor="end" font-weight="normal" fill="#1c1c1c" >1</text>
<line x1="49.80" y1="516.60" x2="49.80" y2="518.30" stroke="#6a6a6a" stroke-width="0.9"/>
<text x="49.80" y="528.00" font-size="7.6" text-anchor="middle" font-weight="normal" fill="#1c1c1c" >0</text>
<line x1="64.30" y1="516.60" x2="64.30" y2="518.30" stroke="#6a6a6a" stroke-width="0.9"/>
<text x="64.30" y="528.00" font-size="7.6" text-anchor="middle" font-weight="normal" fill="#1c1c1c" >1</text>
<line x1="78.80" y1="516.60" x2="78.80" y2="518.30" stroke="#6a6a6a" stroke-width="0.9"/>
<text x="78.80" y="528.00" font-size="7.6" text-anchor="middle" font-weight="normal" fill="#1c1c1c" >2</text>
<line x1="93.30" y1="516.60" x2="93.30" y2="518.30" stroke="#6a6a6a" stroke-width="0.9"/>
<text x="93.30" y="528.00" font-size="7.6" text-anchor="middle" font-weight="normal" fill="#1c1c1c" >3</text>
<line x1="107.80" y1="516.60" x2="107.80" y2="518.30" stroke="#6a6a6a" stroke-width="0.9"/>
<text x="107.80" y="528.00" font-size="7.6" text-anchor="middle" font-weight="normal" fill="#1c1c1c" >4</text>
<line x1="122.30" y1="516.60" x2="122.30" y2="518.30" stroke="#6a6a6a" stroke-width="0.9"/>
<text x="122.30" y="528.00" font-size="7.6" text-anchor="middle" font-weight="normal" fill="#1c1c1c" >5</text>
<line x1="147.30" y1="516.60" x2="147.30" y2="518.30" stroke="#6a6a6a" stroke-width="0.9"/>
<text x="147.30" y="528.00" font-size="7.6" text-anchor="middle" font-weight="normal" fill="#1c1c1c" >10</text>
<line x1="168.57" y1="516.60" x2="168.57" y2="518.30" stroke="#6a6a6a" stroke-width="0.9"/>
<text x="168.57" y="528.00" font-size="7.6" text-anchor="middle" font-weight="normal" fill="#1c1c1c" >20</text>
<line x1="189.84" y1="516.60" x2="189.84" y2="518.30" stroke="#6a6a6a" stroke-width="0.9"/>
<text x="189.84" y="528.00" font-size="7.6" text-anchor="middle" font-weight="normal" fill="#1c1c1c" >30</text>
<line x1="211.11" y1="516.60" x2="211.11" y2="518.30" stroke="#6a6a6a" stroke-width="0.9"/>
<text x="211.11" y="528.00" font-size="7.6" text-anchor="middle" font-weight="normal" fill="#1c1c1c" >40</text>
<text x="100.30" y="540.80" font-size="9.4" text-anchor="start" font-weight="normal" fill="#1c1c1c" >age (in years)</text>
<text transform="translate(11.10,457.90) rotate(-90)" font-size="9.6" text-anchor="middle" fill="#1c1c1c"  textLength="107.9" lengthAdjust="spacingAndGlyphs">CD4<tspan font-size="5.5" dy="-4.4">+</tspan><tspan dy="4.4"> T-cell TREC number</tspan></text>
<text transform="translate(22.10,458.60) rotate(-90)" font-size="9.6" text-anchor="middle" fill="#1c1c1c"  textLength="49.9" lengthAdjust="spacingAndGlyphs">per µl blood</text>
<polyline points="53.50,434.50 98.80,478.60 114.00,486.50" fill="none" stroke="#333" stroke-width="0.95"/>
<polyline points="51.00,443.80 62.80,461.50 91.50,499.50" fill="none" stroke="#333" stroke-width="0.95"/>
<polyline points="49.80,451.70 52.70,465.10" fill="none" stroke="#333" stroke-width="0.95"/>
<polyline points="58.40,483.50 79.20,502.60" fill="none" stroke="#333" stroke-width="0.95"/>
<circle cx="55.90" cy="424.20" r="1.7" fill="#fff" stroke="#383838" stroke-width="0.7"/>
<circle cx="61.60" cy="427.60" r="1.7" fill="#fff" stroke="#383838" stroke-width="0.7"/>
<circle cx="55.90" cy="430.10" r="1.7" fill="#fff" stroke="#383838" stroke-width="0.7"/>
<circle cx="62.10" cy="430.80" r="1.7" fill="#fff" stroke="#383838" stroke-width="0.7"/>
<circle cx="65.70" cy="433.30" r="1.7" fill="#fff" stroke="#383838" stroke-width="0.7"/>
<circle cx="54.20" cy="434.50" r="1.7" fill="#fff" stroke="#383838" stroke-width="0.7"/>
<circle cx="71.90" cy="435.20" r="1.7" fill="#fff" stroke="#383838" stroke-width="0.7"/>
<circle cx="73.80" cy="438.20" r="1.7" fill="#fff" stroke="#383838" stroke-width="0.7"/>
<circle cx="60.80" cy="437.00" r="1.7" fill="#fff" stroke="#383838" stroke-width="0.7"/>
<circle cx="53.50" cy="438.20" r="1.7" fill="#fff" stroke="#383838" stroke-width="0.7"/>
<circle cx="82.90" cy="432.50" r="1.7" fill="#fff" stroke="#383838" stroke-width="0.7"/>
<circle cx="93.90" cy="432.00" r="1.7" fill="#fff" stroke="#383838" stroke-width="0.7"/>
<circle cx="68.90" cy="441.40" r="1.7" fill="#fff" stroke="#383838" stroke-width="0.7"/>
<circle cx="82.90" cy="441.10" r="1.7" fill="#fff" stroke="#383838" stroke-width="0.7"/>
<circle cx="57.20" cy="443.10" r="1.7" fill="#fff" stroke="#383838" stroke-width="0.7"/>
<circle cx="54.20" cy="446.80" r="1.7" fill="#fff" stroke="#383838" stroke-width="0.7"/>
<circle cx="88.50" cy="449.20" r="1.7" fill="#fff" stroke="#383838" stroke-width="0.7"/>
<circle cx="98.10" cy="450.90" r="1.7" fill="#fff" stroke="#383838" stroke-width="0.7"/>
<circle cx="51.00" cy="450.40" r="1.7" fill="#fff" stroke="#383838" stroke-width="0.7"/>
<circle cx="49.80" cy="451.70" r="1.7" fill="#fff" stroke="#383838" stroke-width="0.7"/>
<circle cx="59.60" cy="452.90" r="1.7" fill="#fff" stroke="#383838" stroke-width="0.7"/>
<circle cx="81.20" cy="457.10" r="1.7" fill="#fff" stroke="#383838" stroke-width="0.7"/>
<circle cx="57.60" cy="458.50" r="1.7" fill="#fff" stroke="#383838" stroke-width="0.7"/>
<circle cx="69.40" cy="467.10" r="1.7" fill="#fff" stroke="#383838" stroke-width="0.7"/>
<circle cx="86.10" cy="467.10" r="1.7" fill="#fff" stroke="#383838" stroke-width="0.7"/>
<circle cx="95.60" cy="468.80" r="1.7" fill="#fff" stroke="#383838" stroke-width="0.7"/>
<circle cx="96.90" cy="470.80" r="1.7" fill="#fff" stroke="#383838" stroke-width="0.7"/>
<circle cx="62.10" cy="474.20" r="1.7" fill="#fff" stroke="#383838" stroke-width="0.7"/>
<circle cx="80.40" cy="482.80" r="1.7" fill="#fff" stroke="#383838" stroke-width="0.7"/>
<circle cx="110.30" cy="459.00" r="1.7" fill="#fff" stroke="#383838" stroke-width="0.7"/>
<circle cx="116.50" cy="462.20" r="1.7" fill="#fff" stroke="#383838" stroke-width="0.7"/>
<circle cx="124.10" cy="460.70" r="1.7" fill="#fff" stroke="#383838" stroke-width="0.7"/>
<circle cx="125.30" cy="442.60" r="1.7" fill="#fff" stroke="#383838" stroke-width="0.7"/>
<circle cx="122.80" cy="473.20" r="1.7" fill="#fff" stroke="#383838" stroke-width="0.7"/>
<circle cx="127.70" cy="476.20" r="1.7" fill="#fff" stroke="#383838" stroke-width="0.7"/>
<circle cx="136.10" cy="436.50" r="1.7" fill="#fff" stroke="#383838" stroke-width="0.7"/>
<circle cx="139.30" cy="436.50" r="1.7" fill="#fff" stroke="#383838" stroke-width="0.7"/>
<circle cx="147.60" cy="454.10" r="1.7" fill="#fff" stroke="#383838" stroke-width="0.7"/>
<circle cx="147.60" cy="458.50" r="1.7" fill="#fff" stroke="#383838" stroke-width="0.7"/>
<circle cx="152.10" cy="457.80" r="1.7" fill="#fff" stroke="#383838" stroke-width="0.7"/>
<circle cx="134.90" cy="463.40" r="1.7" fill="#fff" stroke="#383838" stroke-width="0.7"/>
<circle cx="154.50" cy="463.40" r="1.7" fill="#fff" stroke="#383838" stroke-width="0.7"/>
<circle cx="158.90" cy="462.70" r="1.7" fill="#fff" stroke="#383838" stroke-width="0.7"/>
<circle cx="145.20" cy="468.80" r="1.7" fill="#fff" stroke="#383838" stroke-width="0.7"/>
<circle cx="141.00" cy="470.00" r="1.7" fill="#fff" stroke="#383838" stroke-width="0.7"/>
<circle cx="152.10" cy="470.00" r="1.7" fill="#fff" stroke="#383838" stroke-width="0.7"/>
<circle cx="157.00" cy="467.60" r="1.7" fill="#fff" stroke="#383838" stroke-width="0.7"/>
<circle cx="163.80" cy="470.00" r="1.7" fill="#fff" stroke="#383838" stroke-width="0.7"/>
<circle cx="139.10" cy="472.50" r="1.7" fill="#fff" stroke="#383838" stroke-width="0.7"/>
<circle cx="142.30" cy="475.00" r="1.7" fill="#fff" stroke="#383838" stroke-width="0.7"/>
<circle cx="149.10" cy="475.70" r="1.7" fill="#fff" stroke="#383838" stroke-width="0.7"/>
<circle cx="151.60" cy="476.70" r="1.7" fill="#fff" stroke="#383838" stroke-width="0.7"/>
<circle cx="158.90" cy="475.00" r="1.7" fill="#fff" stroke="#383838" stroke-width="0.7"/>
<circle cx="161.90" cy="475.70" r="1.7" fill="#fff" stroke="#383838" stroke-width="0.7"/>
<circle cx="170.90" cy="472.00" r="1.7" fill="#fff" stroke="#383838" stroke-width="0.7"/>
<circle cx="181.00" cy="468.30" r="1.7" fill="#fff" stroke="#383838" stroke-width="0.7"/>
<circle cx="187.10" cy="473.00" r="1.7" fill="#fff" stroke="#383838" stroke-width="0.7"/>
<circle cx="145.20" cy="479.40" r="1.7" fill="#fff" stroke="#383838" stroke-width="0.7"/>
<circle cx="149.10" cy="478.60" r="1.7" fill="#fff" stroke="#383838" stroke-width="0.7"/>
<circle cx="159.40" cy="478.60" r="1.7" fill="#fff" stroke="#383838" stroke-width="0.7"/>
<circle cx="152.50" cy="482.30" r="1.7" fill="#fff" stroke="#383838" stroke-width="0.7"/>
<circle cx="163.60" cy="483.50" r="1.7" fill="#fff" stroke="#383838" stroke-width="0.7"/>
<circle cx="142.30" cy="486.70" r="1.7" fill="#fff" stroke="#383838" stroke-width="0.7"/>
<circle cx="176.10" cy="488.40" r="1.7" fill="#fff" stroke="#383838" stroke-width="0.7"/>
<circle cx="156.20" cy="490.90" r="1.7" fill="#fff" stroke="#383838" stroke-width="0.7"/>
<circle cx="189.60" cy="491.60" r="1.7" fill="#fff" stroke="#383838" stroke-width="0.7"/>
<circle cx="202.30" cy="486.50" r="1.7" fill="#fff" stroke="#383838" stroke-width="0.7"/>
<circle cx="200.60" cy="492.80" r="1.7" fill="#fff" stroke="#383838" stroke-width="0.7"/>
<circle cx="206.50" cy="491.40" r="1.7" fill="#fff" stroke="#383838" stroke-width="0.7"/>
<circle cx="210.40" cy="492.80" r="1.7" fill="#fff" stroke="#383838" stroke-width="0.7"/>
<circle cx="156.20" cy="497.70" r="1.7" fill="#fff" stroke="#383838" stroke-width="0.7"/>
<circle cx="200.60" cy="497.70" r="1.7" fill="#fff" stroke="#383838" stroke-width="0.7"/>
<circle cx="204.80" cy="499.50" r="1.7" fill="#fff" stroke="#383838" stroke-width="0.7"/>
<circle cx="177.10" cy="509.80" r="1.7" fill="#fff" stroke="#383838" stroke-width="0.7"/>
<polygon points="55.20,451.49 53.25,455.00 57.15,455.00" fill="#000"/>
<polygon points="52.70,462.99 50.75,466.50 54.65,466.50" fill="#000"/>
<polygon points="62.80,459.39 60.85,462.90 64.75,462.90" fill="#000"/>
<polygon points="79.70,465.49 77.75,469.00 81.65,469.00" fill="#000"/>
<polygon points="86.10,480.89 84.15,484.40 88.05,484.40" fill="#000"/>
<polygon points="58.40,481.39 56.45,484.90 60.35,484.90" fill="#000"/>
<polygon points="68.20,479.69 66.25,483.20 70.15,483.20" fill="#000"/>
<polygon points="78.70,488.79 76.75,492.30 80.65,492.30" fill="#000"/>
<polygon points="79.20,500.49 77.25,504.00 81.15,504.00" fill="#000"/>
<polygon points="91.50,497.39 89.55,500.90 93.45,500.90" fill="#000"/>
<polygon points="98.80,476.49 96.85,480.00 100.75,480.00" fill="#000"/>
<polygon points="114.00,484.39 112.05,487.90 115.95,487.90" fill="#000"/>
<polygon points="153.30,450.09 151.35,453.60 155.25,453.60" fill="#000"/>
<polygon points="169.70,451.99 167.75,455.50 171.65,455.50" fill="#000"/>
<polygon points="144.20,464.29 142.25,467.80 146.15,467.80" fill="#000"/>
<polygon points="159.40,464.29 157.45,467.80 161.35,467.80" fill="#000"/>
<polygon points="171.70,470.39 169.75,473.90 173.65,473.90" fill="#000"/>
<polygon points="174.10,469.19 172.15,472.70 176.05,472.70" fill="#000"/>
<polygon points="177.10,472.09 175.15,475.60 179.05,475.60" fill="#000"/>
<polygon points="178.30,467.19 176.35,470.70 180.25,470.70" fill="#000"/>
<polygon points="179.50,475.49 177.55,479.00 181.45,479.00" fill="#000"/>
<polygon points="140.30,478.99 138.35,482.50 142.25,482.50" fill="#000"/>
<polygon points="165.50,477.79 163.55,481.30 167.45,481.30" fill="#000"/>
<polygon points="193.20,482.19 191.25,485.70 195.15,485.70" fill="#000"/>
<polygon points="152.50,491.69 150.55,495.20 154.45,495.20" fill="#000"/>
<polygon points="147.60,500.99 145.65,504.50 149.55,504.50" fill="#000"/>
<polygon points="53.80,432.36 52.10,435.42 55.50,435.42" fill="none" stroke="#333" stroke-width="0.7"/>
<polygon points="51.00,441.96 49.30,445.02 52.70,445.02" fill="none" stroke="#333" stroke-width="0.7"/>
<text transform="translate(275.40,389.75) scale(0.9,1)" font-size="14.9" font-weight="bold" fill="#111" style="stroke-width:0.1px">G</text>
<line x1="319.20" y1="397.60" x2="319.20" y2="516.20" stroke="#6a6a6a" stroke-width="0.9"/>
<line x1="318.90" y1="516.20" x2="483.80" y2="516.20" stroke="#6a6a6a" stroke-width="0.9"/>
<line x1="407.00" y1="518.40" x2="411.60" y2="514.20" stroke="#6a6a6a" stroke-width="0.8"/>
<line x1="408.80" y1="518.40" x2="413.40" y2="514.20" stroke="#6a6a6a" stroke-width="0.8"/>
<line x1="317.20" y1="397.80" x2="319.20" y2="397.80" stroke="#6a6a6a" stroke-width="0.9"/>
<text x="313.20" y="400.30" font-size="7.1" text-anchor="end" font-weight="normal" fill="#1c1c1c" >1</text>
<line x1="317.20" y1="427.30" x2="319.20" y2="427.30" stroke="#6a6a6a" stroke-width="0.9"/>
<text x="313.20" y="429.80" font-size="7.1" text-anchor="end" font-weight="normal" fill="#1c1c1c" >0.1</text>
<line x1="317.20" y1="456.80" x2="319.20" y2="456.80" stroke="#6a6a6a" stroke-width="0.9"/>
<text x="313.20" y="459.30" font-size="7.1" text-anchor="end" font-weight="normal" fill="#1c1c1c" >0.01</text>
<line x1="317.20" y1="486.30" x2="319.20" y2="486.30" stroke="#6a6a6a" stroke-width="0.9"/>
<text x="313.20" y="488.80" font-size="7.1" text-anchor="end" font-weight="normal" fill="#1c1c1c" >0.001</text>
<line x1="317.20" y1="515.80" x2="319.20" y2="515.80" stroke="#6a6a6a" stroke-width="0.9"/>
<text x="313.20" y="518.30" font-size="7.1" text-anchor="end" font-weight="normal" fill="#1c1c1c" >0.0001</text>
<line x1="321.60" y1="515.80" x2="321.60" y2="517.50" stroke="#6a6a6a" stroke-width="0.9"/>
<text x="321.60" y="528.40" font-size="7.6" text-anchor="middle" font-weight="normal" fill="#1c1c1c" >0</text>
<line x1="336.10" y1="515.80" x2="336.10" y2="517.50" stroke="#6a6a6a" stroke-width="0.9"/>
<text x="336.10" y="528.40" font-size="7.6" text-anchor="middle" font-weight="normal" fill="#1c1c1c" >1</text>
<line x1="350.60" y1="515.80" x2="350.60" y2="517.50" stroke="#6a6a6a" stroke-width="0.9"/>
<text x="350.60" y="528.40" font-size="7.6" text-anchor="middle" font-weight="normal" fill="#1c1c1c" >2</text>
<line x1="365.10" y1="515.80" x2="365.10" y2="517.50" stroke="#6a6a6a" stroke-width="0.9"/>
<text x="365.10" y="528.40" font-size="7.6" text-anchor="middle" font-weight="normal" fill="#1c1c1c" >3</text>
<line x1="379.60" y1="515.80" x2="379.60" y2="517.50" stroke="#6a6a6a" stroke-width="0.9"/>
<text x="379.60" y="528.40" font-size="7.6" text-anchor="middle" font-weight="normal" fill="#1c1c1c" >4</text>
<line x1="394.10" y1="515.80" x2="394.10" y2="517.50" stroke="#6a6a6a" stroke-width="0.9"/>
<text x="394.10" y="528.40" font-size="7.6" text-anchor="middle" font-weight="normal" fill="#1c1c1c" >5</text>
<line x1="419.20" y1="515.80" x2="419.20" y2="517.50" stroke="#6a6a6a" stroke-width="0.9"/>
<text x="419.20" y="528.40" font-size="7.6" text-anchor="middle" font-weight="normal" fill="#1c1c1c" >10</text>
<line x1="440.70" y1="515.80" x2="440.70" y2="517.50" stroke="#6a6a6a" stroke-width="0.9"/>
<text x="440.70" y="528.40" font-size="7.6" text-anchor="middle" font-weight="normal" fill="#1c1c1c" >20</text>
<line x1="462.20" y1="515.80" x2="462.20" y2="517.50" stroke="#6a6a6a" stroke-width="0.9"/>
<text x="462.20" y="528.40" font-size="7.6" text-anchor="middle" font-weight="normal" fill="#1c1c1c" >30</text>
<line x1="483.70" y1="515.80" x2="483.70" y2="517.50" stroke="#6a6a6a" stroke-width="0.9"/>
<text x="483.70" y="528.40" font-size="7.6" text-anchor="middle" font-weight="normal" fill="#1c1c1c" >40</text>
<text x="371.60" y="540.80" font-size="9.4" text-anchor="start" font-weight="normal" fill="#1c1c1c" >age (in years)</text>
<text transform="translate(290.30,456.70) rotate(-90)" font-size="10.0" text-anchor="middle" fill="#1c1c1c"  textLength="92" lengthAdjust="spacingAndGlyphs">TREC per CD4<tspan font-size="5.5" dy="-4.6">+</tspan><tspan dy="4.6"> T cell</tspan></text>
<polyline points="326.30,418.30 371.20,454.90 386.00,453.40" fill="none" stroke="#333" stroke-width="0.95"/>
<polyline points="324.20,422.90 363.60,466.20" fill="none" stroke="#333" stroke-width="0.95"/>
<polyline points="330.40,446.50 351.10,455.80" fill="none" stroke="#333" stroke-width="0.95"/>
<circle cx="327.60" cy="410.50" r="1.7" fill="#fff" stroke="#383838" stroke-width="0.7"/>
<circle cx="333.40" cy="411.80" r="1.7" fill="#fff" stroke="#383838" stroke-width="0.7"/>
<circle cx="333.40" cy="415.30" r="1.7" fill="#fff" stroke="#383838" stroke-width="0.7"/>
<circle cx="354.50" cy="408.40" r="1.7" fill="#fff" stroke="#383838" stroke-width="0.7"/>
<circle cx="365.00" cy="411.80" r="1.7" fill="#fff" stroke="#383838" stroke-width="0.7"/>
<circle cx="355.00" cy="415.30" r="1.7" fill="#fff" stroke="#383838" stroke-width="0.7"/>
<circle cx="343.20" cy="415.30" r="1.7" fill="#fff" stroke="#383838" stroke-width="0.7"/>
<circle cx="345.80" cy="417.10" r="1.7" fill="#fff" stroke="#383838" stroke-width="0.7"/>
<circle cx="338.20" cy="417.10" r="1.7" fill="#fff" stroke="#383838" stroke-width="0.7"/>
<circle cx="360.30" cy="417.10" r="1.7" fill="#fff" stroke="#383838" stroke-width="0.7"/>
<circle cx="369.70" cy="420.30" r="1.7" fill="#fff" stroke="#383838" stroke-width="0.7"/>
<circle cx="374.20" cy="428.40" r="1.7" fill="#fff" stroke="#383838" stroke-width="0.7"/>
<circle cx="357.90" cy="438.20" r="1.7" fill="#fff" stroke="#383838" stroke-width="0.7"/>
<circle cx="357.60" cy="442.10" r="1.7" fill="#fff" stroke="#383838" stroke-width="0.7"/>
<circle cx="367.60" cy="446.80" r="1.7" fill="#fff" stroke="#383838" stroke-width="0.7"/>
<circle cx="368.90" cy="452.10" r="1.7" fill="#fff" stroke="#383838" stroke-width="0.7"/>
<circle cx="382.90" cy="434.20" r="1.7" fill="#fff" stroke="#383838" stroke-width="0.7"/>
<circle cx="388.70" cy="435.00" r="1.7" fill="#fff" stroke="#383838" stroke-width="0.7"/>
<circle cx="397.40" cy="418.90" r="1.7" fill="#fff" stroke="#383838" stroke-width="0.7"/>
<circle cx="396.10" cy="440.00" r="1.7" fill="#fff" stroke="#383838" stroke-width="0.7"/>
<circle cx="394.70" cy="445.50" r="1.7" fill="#fff" stroke="#383838" stroke-width="0.7"/>
<circle cx="400.50" cy="446.10" r="1.7" fill="#fff" stroke="#383838" stroke-width="0.7"/>
<circle cx="407.90" cy="409.20" r="1.7" fill="#fff" stroke="#383838" stroke-width="0.7"/>
<circle cx="411.80" cy="413.20" r="1.7" fill="#fff" stroke="#383838" stroke-width="0.7"/>
<circle cx="406.60" cy="434.20" r="1.7" fill="#fff" stroke="#383838" stroke-width="0.7"/>
<circle cx="322.60" cy="419.10" r="1.7" fill="#fff" stroke="#383838" stroke-width="0.7"/>
<circle cx="325.50" cy="417.10" r="1.7" fill="#fff" stroke="#383838" stroke-width="0.7"/>
<circle cx="321.70" cy="421.20" r="1.7" fill="#fff" stroke="#383838" stroke-width="0.7"/>
<circle cx="323.00" cy="423.30" r="1.7" fill="#fff" stroke="#383838" stroke-width="0.7"/>
<circle cx="321.70" cy="425.40" r="1.7" fill="#fff" stroke="#383838" stroke-width="0.7"/>
<circle cx="322.10" cy="427.80" r="1.7" fill="#fff" stroke="#383838" stroke-width="0.7"/>
<circle cx="322.10" cy="431.10" r="1.7" fill="#fff" stroke="#383838" stroke-width="0.7"/>
<circle cx="332.50" cy="425.80" r="1.7" fill="#fff" stroke="#383838" stroke-width="0.7"/>
<circle cx="340.80" cy="422.90" r="1.7" fill="#fff" stroke="#383838" stroke-width="0.7"/>
<circle cx="329.60" cy="433.20" r="1.7" fill="#fff" stroke="#383838" stroke-width="0.7"/>
<circle cx="331.70" cy="434.50" r="1.7" fill="#fff" stroke="#383838" stroke-width="0.7"/>
<circle cx="329.60" cy="438.20" r="1.7" fill="#fff" stroke="#383838" stroke-width="0.7"/>
<circle cx="333.70" cy="443.20" r="1.7" fill="#fff" stroke="#383838" stroke-width="0.7"/>
<circle cx="341.20" cy="446.10" r="1.7" fill="#fff" stroke="#383838" stroke-width="0.7"/>
<circle cx="419.70" cy="427.10" r="1.7" fill="#fff" stroke="#383838" stroke-width="0.7"/>
<circle cx="423.70" cy="427.10" r="1.7" fill="#fff" stroke="#383838" stroke-width="0.7"/>
<circle cx="455.30" cy="427.60" r="1.7" fill="#fff" stroke="#383838" stroke-width="0.7"/>
<circle cx="457.90" cy="424.50" r="1.7" fill="#fff" stroke="#383838" stroke-width="0.7"/>
<circle cx="415.80" cy="435.00" r="1.7" fill="#fff" stroke="#383838" stroke-width="0.7"/>
<circle cx="417.90" cy="435.00" r="1.7" fill="#fff" stroke="#383838" stroke-width="0.7"/>
<circle cx="426.30" cy="433.70" r="1.7" fill="#fff" stroke="#383838" stroke-width="0.7"/>
<circle cx="431.60" cy="434.20" r="1.7" fill="#fff" stroke="#383838" stroke-width="0.7"/>
<circle cx="435.50" cy="435.50" r="1.7" fill="#fff" stroke="#383838" stroke-width="0.7"/>
<circle cx="410.50" cy="438.20" r="1.7" fill="#fff" stroke="#383838" stroke-width="0.7"/>
<circle cx="417.10" cy="438.90" r="1.7" fill="#fff" stroke="#383838" stroke-width="0.7"/>
<circle cx="423.70" cy="438.20" r="1.7" fill="#fff" stroke="#383838" stroke-width="0.7"/>
<circle cx="430.30" cy="438.20" r="1.7" fill="#fff" stroke="#383838" stroke-width="0.7"/>
<circle cx="453.90" cy="438.90" r="1.7" fill="#fff" stroke="#383838" stroke-width="0.7"/>
<circle cx="413.20" cy="441.60" r="1.7" fill="#fff" stroke="#383838" stroke-width="0.7"/>
<circle cx="442.10" cy="442.10" r="1.7" fill="#fff" stroke="#383838" stroke-width="0.7"/>
<circle cx="431.60" cy="443.40" r="1.7" fill="#fff" stroke="#383838" stroke-width="0.7"/>
<circle cx="414.50" cy="443.40" r="1.7" fill="#fff" stroke="#383838" stroke-width="0.7"/>
<circle cx="422.40" cy="446.80" r="1.7" fill="#fff" stroke="#383838" stroke-width="0.7"/>
<circle cx="455.30" cy="447.40" r="1.7" fill="#fff" stroke="#383838" stroke-width="0.7"/>
<circle cx="459.20" cy="448.70" r="1.7" fill="#fff" stroke="#383838" stroke-width="0.7"/>
<circle cx="461.80" cy="444.20" r="1.7" fill="#fff" stroke="#383838" stroke-width="0.7"/>
<circle cx="418.40" cy="450.00" r="1.7" fill="#fff" stroke="#383838" stroke-width="0.7"/>
<circle cx="424.20" cy="450.80" r="1.7" fill="#fff" stroke="#383838" stroke-width="0.7"/>
<circle cx="431.10" cy="450.00" r="1.7" fill="#fff" stroke="#383838" stroke-width="0.7"/>
<circle cx="435.50" cy="450.80" r="1.7" fill="#fff" stroke="#383838" stroke-width="0.7"/>
<circle cx="475.00" cy="450.50" r="1.7" fill="#fff" stroke="#383838" stroke-width="0.7"/>
<circle cx="414.50" cy="453.90" r="1.7" fill="#fff" stroke="#383838" stroke-width="0.7"/>
<circle cx="448.70" cy="452.10" r="1.7" fill="#fff" stroke="#383838" stroke-width="0.7"/>
<circle cx="453.90" cy="453.90" r="1.7" fill="#fff" stroke="#383838" stroke-width="0.7"/>
<circle cx="461.80" cy="452.60" r="1.7" fill="#fff" stroke="#383838" stroke-width="0.7"/>
<circle cx="465.80" cy="453.40" r="1.7" fill="#fff" stroke="#383838" stroke-width="0.7"/>
<circle cx="421.10" cy="456.10" r="1.7" fill="#fff" stroke="#383838" stroke-width="0.7"/>
<circle cx="472.40" cy="456.10" r="1.7" fill="#fff" stroke="#383838" stroke-width="0.7"/>
<circle cx="482.90" cy="456.60" r="1.7" fill="#fff" stroke="#383838" stroke-width="0.7"/>
<circle cx="461.80" cy="459.20" r="1.7" fill="#fff" stroke="#383838" stroke-width="0.7"/>
<circle cx="465.80" cy="457.90" r="1.7" fill="#fff" stroke="#383838" stroke-width="0.7"/>
<circle cx="478.40" cy="459.70" r="1.7" fill="#fff" stroke="#383838" stroke-width="0.7"/>
<circle cx="428.40" cy="460.00" r="1.7" fill="#fff" stroke="#383838" stroke-width="0.7"/>
<circle cx="428.40" cy="463.70" r="1.7" fill="#fff" stroke="#383838" stroke-width="0.7"/>
<circle cx="457.40" cy="461.80" r="1.7" fill="#fff" stroke="#383838" stroke-width="0.7"/>
<circle cx="476.80" cy="469.20" r="1.7" fill="#fff" stroke="#383838" stroke-width="0.7"/>
<circle cx="457.40" cy="472.40" r="1.7" fill="#fff" stroke="#383838" stroke-width="0.7"/>
<circle cx="448.70" cy="477.60" r="1.7" fill="#fff" stroke="#383838" stroke-width="0.7"/>
<circle cx="453.40" cy="496.60" r="1.7" fill="#fff" stroke="#383838" stroke-width="0.7"/>
<polygon points="324.60,433.59 322.65,437.10 326.55,437.10" fill="#000"/>
<polygon points="327.10,430.29 325.15,433.80 329.05,433.80" fill="#000"/>
<polygon points="334.60,433.59 332.65,437.10 336.55,437.10" fill="#000"/>
<polygon points="352.40,433.59 350.45,437.10 354.35,437.10" fill="#000"/>
<polygon points="330.00,444.39 328.05,447.90 331.95,447.90" fill="#000"/>
<polygon points="340.00,453.49 338.05,457.00 341.95,457.00" fill="#000"/>
<polygon points="351.10,454.29 349.15,457.80 353.05,457.80" fill="#000"/>
<polygon points="351.10,456.49 349.15,460.00 353.05,460.00" fill="#000"/>
<polygon points="358.40,449.99 356.45,453.50 360.35,453.50" fill="#000"/>
<polygon points="363.20,463.69 361.25,467.20 365.15,467.20" fill="#000"/>
<polygon points="371.00,452.59 369.05,456.10 372.95,456.10" fill="#000"/>
<polygon points="386.00,451.29 384.05,454.80 387.95,454.80" fill="#000"/>
<polygon points="425.00,420.29 423.05,423.80 426.95,423.80" fill="#000"/>
<polygon points="441.60,429.49 439.65,433.00 443.55,433.00" fill="#000"/>
<polygon points="416.30,434.69 414.35,438.20 418.25,438.20" fill="#000"/>
<polygon points="431.10,436.79 429.15,440.30 433.05,440.30" fill="#000"/>
<polygon points="444.70,437.39 442.75,440.90 446.65,440.90" fill="#000"/>
<polygon points="411.80,443.99 409.85,447.50 413.75,447.50" fill="#000"/>
<polygon points="437.40,441.29 435.45,444.80 439.35,444.80" fill="#000"/>
<polygon points="436.30,445.29 434.35,448.80 438.25,448.80" fill="#000"/>
<polygon points="447.40,442.59 445.45,446.10 449.35,446.10" fill="#000"/>
<polygon points="450.00,439.99 448.05,443.50 451.95,443.50" fill="#000"/>
<polygon points="451.30,441.29 449.35,444.80 453.25,444.80" fill="#000"/>
<polygon points="465.30,443.39 463.35,446.90 467.25,446.90" fill="#000"/>
<polygon points="468.90,445.29 466.95,448.80 470.85,448.80" fill="#000"/>
<polygon points="424.20,455.79 422.25,459.30 426.15,459.30" fill="#000"/>
<polygon points="449.50,455.79 447.55,459.30 451.45,459.30" fill="#000"/>
<polygon points="420.50,469.49 418.55,473.00 422.45,473.00" fill="#000"/>
<polygon points="419.70,470.29 417.75,473.80 421.65,473.80" fill="#000"/>
<rect x="282.30" y="410.80" width="7.80" height="3.60" fill="#9a9a9a" stroke="none" stroke-width="0"/>
</svg>
</body></html>
